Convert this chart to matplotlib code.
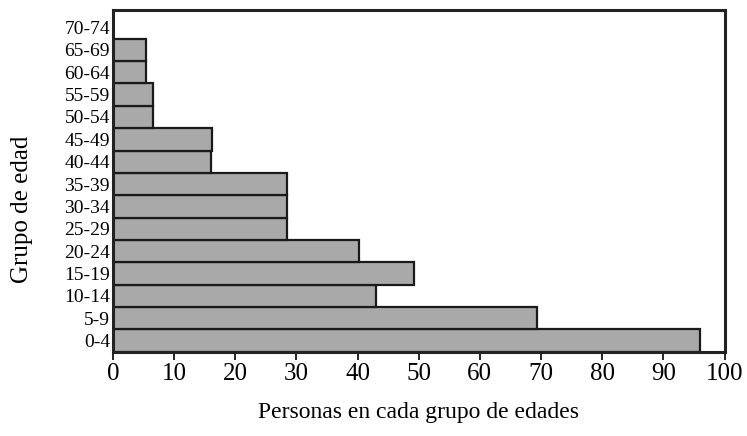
import matplotlib
matplotlib.use("Agg")
import matplotlib.pyplot as plt
import numpy as np

# age groups, bottom to top
grupos = ['0-4', '5-9', '10-14', '15-19', '20-24', '25-29', '30-34', '35-39',
          '40-44', '45-49', '50-54', '55-59', '60-64', '65-69', '70-74']
personas = [96, 69.3, 43, 49.2, 40.2, 28.4, 28.4, 28.4,
            16, 16.2, 6.5, 6.5, 5.5, 5.5, 0]
xticks = [0, 10, 20, 30, 40, 50, 60, 70, 80, 90, 100]

plt.rcParams['font.family'] = ['Liberation Serif', 'DejaVu Serif']

fig = plt.figure(figsize=(7.47, 4.36), dpi=100)
ax = fig.add_axes([0.151, 0.193, 0.819, 0.784])

y = np.arange(len(grupos))
vals = np.array(personas)
mask = vals > 0
ax.barh(y[mask], vals[mask], height=1.0, color='#a9a9a9',
        edgecolor='#1a1a1a', linewidth=1.6)

ax.set_xlim(0, 100)
ax.set_ylim(-0.5, 14.78)
ax.set_yticks(y)
ax.set_yticklabels(grupos, fontsize=14)
ax.tick_params(axis='y', length=0, pad=2)
ax.set_xticks(xticks)
ax.set_xticklabels([str(t) for t in xticks], fontsize=18)
ax.tick_params(axis='x', length=6, width=1.2, direction='out', pad=2)

for s in ax.spines.values():
    s.set_linewidth(2.2)
    s.set_color('#222222')

ax.set_xlabel('Personas en cada grupo de edades', fontsize=17, labelpad=12)
ax.set_ylabel('Grupo de edad', fontsize=18)
ax.yaxis.set_label_coords(-0.13, 0.418)

fig.savefig('out.png', dpi=100)
